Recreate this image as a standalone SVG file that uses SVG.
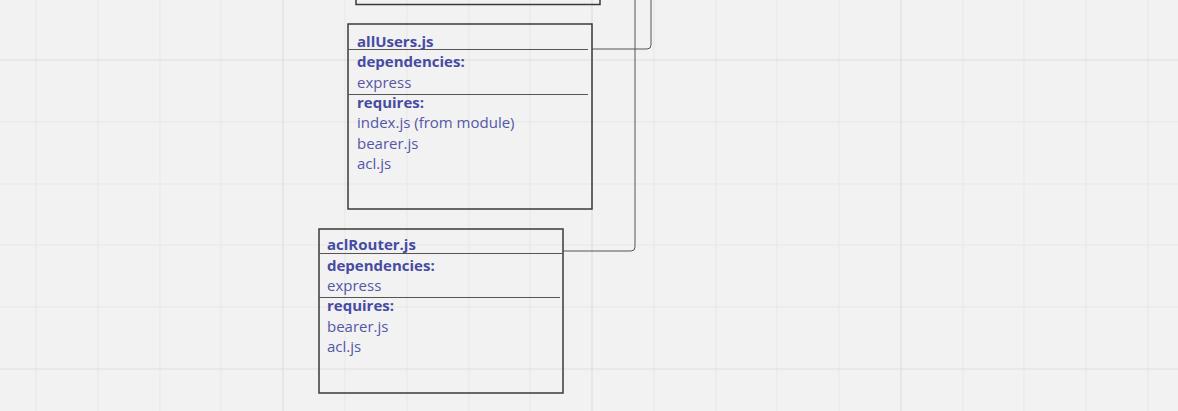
<svg xmlns="http://www.w3.org/2000/svg" width="1178" height="411" viewBox="0 0 1178 411">
<style>
.grid{stroke:#e7e7e7;stroke-width:1}
.major{stroke:#dedede;stroke-width:1.2}
.box{fill:none;stroke:#3a3a3a;stroke-width:1.5}
.sep{stroke:#555;stroke-width:1}
.conn{fill:none;stroke:#555;stroke-width:1}
.t{font-family:"Open Sans","Noto Sans",sans-serif;font-size:15px;fill:#5457a6}
.b{font-weight:bold;fill:#474aa3}
</style>
<rect width="1178" height="411" fill="#f2f2f2"/>
<g id="grid">
<path class="grid" d="M36,0V411M98,0V411M160,0V411M221,0V411M345,0V411M407,0V411M469,0V411M530,0V411M654,0V411M716,0V411M777,0V411M839,0V411M963,0V411M1024,0V411M1086,0V411M1148,0V411M0,122H1178M0,184H1178M0,245H1178M0,307H1178"/>
<path class="major" d="M283,0V411M592,0V411M901,0V411M0,60H1178M0,369H1178"/>
</g>
<g id="connectors">
<path class="conn" d="M592,49H647Q651,49 651,45V0"/>
<path class="conn" d="M563,251H631Q635,251 635,247V0"/>
</g>
<g id="topBox">
<path class="box" d="M356,0V4.5H600V0"/>
</g>
<g id="allUsers">
<rect class="box" x="348" y="24" width="244" height="185" fill="#f2f2f2"/>
<line class="sep" x1="348" y1="49.5" x2="588" y2="49.5"/>
<line class="sep" x1="348" y1="94.5" x2="588" y2="94.5"/>
<text class="t b" x="357" y="47">allUsers.js</text>
<text class="t b" x="357" y="67">dependencies:</text>
<text class="t" x="357" y="88">express</text>
<text class="t b" x="357" y="108">requires:</text>
<text class="t" x="357" y="128">index.js (from module)</text>
<text class="t" x="357" y="149">bearer.js</text>
<text class="t" x="357" y="169">acl.js</text>
</g>
<g id="aclRouter">
<rect class="box" x="319" y="229" width="244" height="164"/>
<line class="sep" x1="319" y1="253.5" x2="563" y2="253.5"/>
<line class="sep" x1="319" y1="297.5" x2="560" y2="297.5"/>
<text class="t b" x="327" y="250">aclRouter.js</text>
<text class="t b" x="327" y="271">dependencies:</text>
<text class="t" x="327" y="291">express</text>
<text class="t b" x="327" y="311">requires:</text>
<text class="t" x="327" y="332">bearer.js</text>
<text class="t" x="327" y="352">acl.js</text>
</g>
</svg>
